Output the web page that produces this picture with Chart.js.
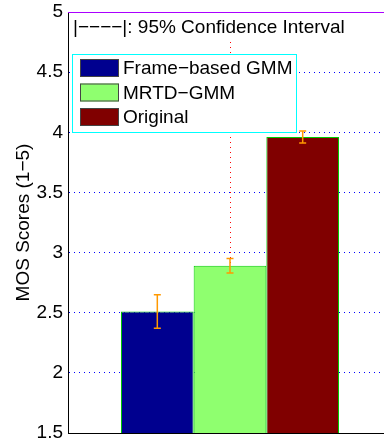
<!DOCTYPE html>
<html>
<head>
<meta charset="utf-8">
<script src="https://cdn.jsdelivr.net/npm/chart.js@4/dist/chart.umd.min.js"></script>
<style>
  html, body { margin: 0; padding: 0; background: #fff; overflow: hidden; }
  #wrap { position: relative; width: 384px; height: 445px; }
</style>
</head>
<body>
<div id="wrap"><canvas id="c"></canvas></div>
<script>
const categories = [''];
const seriesNames = ['Frame\u2212based GMM', 'MRTD\u2212GMM', 'Original'];
const meanScores = [2.51, 2.89, 3.96];
const ciHalfWidths = [0.14, 0.06, 0.05];
const yTickValues = [1.5, 2, 2.5, 3, 3.5, 4, 4.5, 5];
const yTickLabels = ['1.5', '2', '2.5', '3', '3.5', '4', '4.5', '5'];
const seriesColors = ['#00008F', '#8FFF6F', '#800000'];
const yTitle = 'MOS Scores (1\u22125)';
const noteText = '|\u2212\u2212\u2212\u2212|: 95% Confidence Interval';

const FONT = "'Liberation Sans', Arial, Helvetica, sans-serif";
const FS = 19;
const AXES_RIGHT_OVERHANG = 8;

const datasets = seriesNames.map((name, i) => ({
  label: name,
  data: [meanScores[i]],
  backgroundColor: seriesColors[i],
  borderColor: '#0c0',
  borderWidth: 1,
  categoryPercentage: 0.673,
  barPercentage: 1.0
}));

const extendArea = {
  id: 'extendArea',
  afterLayout(chart) {
    const a = chart.chartArea;
    a.right = chart.width + AXES_RIGHT_OVERHANG;
    a.width = a.right - a.left;
    const x = chart.scales.x;
    x.right = a.right;
    x.width = a.width;
    x.configure();
  }
};

const centerGrid = {
  id: 'centerGrid',
  beforeDatasetsDraw(chart) {
    const ctx = chart.ctx;
    const a = chart.chartArea;
    const px = Math.round(chart.scales.x.getPixelForValue(0)) + 0.5;
    ctx.save();
    ctx.strokeStyle = '#f00';
    ctx.lineWidth = 1;
    ctx.setLineDash([1, 4]);
    ctx.beginPath();
    ctx.moveTo(px, a.top);
    ctx.lineTo(px, a.bottom);
    ctx.stroke();
    ctx.restore();
  }
};

const errorBars = {
  id: 'errorBars',
  afterDatasetsDraw(chart) {
    const ctx = chart.ctx;
    const y = chart.scales.y;
    ctx.save();
    ctx.strokeStyle = '#f90';
    ctx.lineWidth = 1.5;
    chart.data.datasets.forEach((ds, i) => {
      const el = chart.getDatasetMeta(i).data[0];
      const x = el.x;
      const t = y.getPixelForValue(meanScores[i] + ciHalfWidths[i]);
      const b = y.getPixelForValue(meanScores[i] - ciHalfWidths[i]);
      ctx.beginPath();
      ctx.moveTo(x, t); ctx.lineTo(x, b);
      ctx.moveTo(x - 3.5, t); ctx.lineTo(x + 3.5, t);
      ctx.moveTo(x - 3.5, b); ctx.lineTo(x + 3.5, b);
      ctx.stroke();
    });
    ctx.restore();
  }
};

const overlay = {
  id: 'overlay',
  afterDraw(chart) {
    const ctx = chart.ctx;
    const a = chart.chartArea;
    ctx.save();
    ctx.setLineDash([]);
    ctx.strokeStyle = '#a0f';
    ctx.lineWidth = 1;
    ctx.beginPath();
    ctx.moveTo(a.left, a.top + 0.5);
    ctx.lineTo(a.right, a.top + 0.5);
    ctx.stroke();
    ctx.fillStyle = '#fff';
    ctx.fillRect(a.left + 1, a.top + 1, 285, 27);
    ctx.fillStyle = '#000';
    ctx.font = FS + 'px ' + FONT;
    ctx.textBaseline = 'middle';
    ctx.textAlign = 'left';
    ctx.fillText(noteText, a.left + 5, a.top + 16);
    const lx = a.left + 4.5, ly = 54.5, lw = 224, lh = 78;
    ctx.fillStyle = '#fff';
    ctx.fillRect(lx, ly, lw, lh);
    ctx.strokeStyle = '#0ff';
    ctx.strokeRect(lx, ly, lw, lh);
    chart.data.datasets.forEach((ds, i) => {
      const cy = 68 + i * 24.5;
      ctx.fillStyle = ds.backgroundColor;
      ctx.fillRect(a.left + 12, cy - 9, 39, 18);
      ctx.strokeStyle = '#444';
      ctx.strokeRect(a.left + 12.5, cy - 8.5, 38, 17);
      ctx.fillStyle = '#000';
      ctx.fillText(ds.label, a.left + 55, cy + 1);
    });
    ctx.restore();
  }
};

new Chart(document.getElementById('c'), {
  type: 'bar',
  data: { labels: categories, datasets },
  options: {
    responsive: true,
    maintainAspectRatio: false,
    animation: false,
    layout: { padding: { left: 0, right: 0, top: 12, bottom: 12 } },
    plugins: { legend: { display: false }, tooltip: { enabled: false } },
    scales: {
      x: {
        afterFit(scale) { scale.paddingLeft = 0; scale.paddingRight = 0; },
        grid: { display: false, drawTicks: false },
        border: { display: true, color: '#000', width: 1 },
        ticks: { display: false }
      },
      y: {
        min: 1.5,
        max: 5,
        afterFit(scale) { scale.width = 68; scale.paddingTop = 0; scale.paddingBottom = 0; },
        afterBuildTicks(scale) { scale.ticks = yTickValues.map(v => ({ value: v })); },
        grid: { drawTicks: false, color: '#00f', lineWidth: 1 },
        border: { display: true, color: '#000', width: 1, dash: [1, 4] },
        ticks: {
          padding: 5,
          color: '#000',
          font: { family: FONT, size: FS },
          callback: (v) => yTickLabels[yTickValues.indexOf(v)]
        },
        title: {
          display: true,
          text: yTitle,
          color: '#000',
          font: { family: FONT, size: FS },
          padding: { top: 12, bottom: 0 }
        }
      }
    }
  },
  plugins: [extendArea, centerGrid, errorBars, overlay]
});
</script>
</body>
</html>
